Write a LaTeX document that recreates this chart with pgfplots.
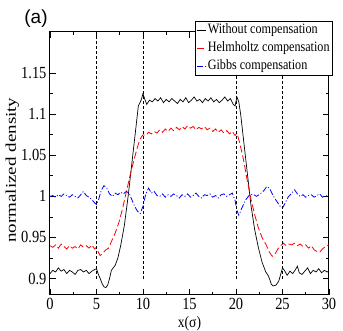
\documentclass[border=0pt]{standalone}
\usepackage{pgfplots}
\pgfplotsset{compat=1.18}
\usepackage{fontspec}
\setmainfont{Liberation Serif}
\setsansfont{Liberation Sans}
\newfontfamily\narrow{Liberation Serif}[FakeStretch=0.85]
\begin{document}
\begin{tikzpicture}
\begin{axis}[
  scale only axis, width=279pt, height=263pt,
  xmin=0, xmax=30, ymin=0.88, ymax=1.2,
  xtick={0,5,...,30}, minor x tick num=1,
  ytick={0.9,0.95,1,1.05,1.1,1.15},
  yticklabels={0.9,0.95,1,1.05,1.1,1.15},
  minor y tick num=1,
  /pgf/number format/assume math mode=true,
  tick label style={font=\fontsize{17}{19}\narrow},
  major tick length=6pt, minor tick length=3pt,
  axis line style={line width=1pt},
  every tick/.style={black, line width=0.7pt},
  xlabel={x(σ)},
  xlabel style={font=\fontsize{16}{18}\narrow},
  ylabel={\scalebox{1}[0.78]{normalized density}},
  ylabel style={font=\fontsize{19}{21}\selectfont, at={(axis description cs:-0.135,0.475)}, anchor=center},
  legend style={at={(axis description cs:0.52,1.042)}, anchor=north west,
    font=\fontsize{14.3}{16}\narrow, draw=black, line width=0.6pt, fill=white,
    inner xsep=1.5pt, inner ysep=1.5pt, row sep=3pt,
    nodes={inner sep=1pt, text height=10pt, text depth=3pt}},
  legend cell align=left,
  legend image code/.code={\draw[#1, line width=0.9pt] (0pt,0pt) -- (9pt,0pt);},
]
\addplot[black, line width=0.7pt] coordinates {
(0,0.906) (0.3,0.910) (0.6,0.908) (0.9,0.913) (1.2,0.909) (1.5,0.911) (1.8,0.906) (2.1,0.910) (2.4,0.908) (2.7,0.905) (3.0,0.910) (3.3,0.911) (3.6,0.908) (3.9,0.910) (4.2,0.906) (4.5,0.909) (4.8,0.911) (5.0,0.912) (5.2,0.905) (5.4,0.900) (5.6,0.894) (5.8,0.890) (6.0,0.889) (6.2,0.892) (6.4,0.900) (6.6,0.910) (6.8,0.913) (7.0,0.916) (7.3,0.925) (7.6,0.940) (8.0,0.965) (8.4,1.000) (8.8,1.040) (9.2,1.080) (9.5,1.110) (9.8,1.117) (10.0,1.125) (10.2,1.118) (10.4,1.112) (10.7,1.117) (11.0,1.115) (11.3,1.119) (11.6,1.116) (11.9,1.120) (12.2,1.114) (12.5,1.118) (12.8,1.115) (13.1,1.119) (13.4,1.116) (13.7,1.113) (14.0,1.118) (14.3,1.115) (14.6,1.120) (14.9,1.114) (15.2,1.117) (15.5,1.121) (15.8,1.116) (16.1,1.118) (16.4,1.114) (16.7,1.119) (17.0,1.116) (17.3,1.120) (17.6,1.115) (17.9,1.118) (18.2,1.114) (18.5,1.117) (18.8,1.121) (19.1,1.116) (19.4,1.119) (19.7,1.112) (19.9,1.110) (20.1,1.121) (20.3,1.115) (20.5,1.100) (20.8,1.070) (21.2,1.030) (21.6,0.990) (22.0,0.960) (22.4,0.938) (22.8,0.920) (23.2,0.908) (23.5,0.903) (23.8,0.893) (24.0,0.891) (24.3,0.892) (24.6,0.897) (24.8,0.905) (25.0,0.913) (25.2,0.910) (25.5,0.904) (25.8,0.909) (26.1,0.906) (26.4,0.911) (26.6,0.915) (26.8,0.907) (27.1,0.905) (27.4,0.909) (27.7,0.913) (28.0,0.906) (28.3,0.910) (28.6,0.908) (28.9,0.912) (29.2,0.907) (29.5,0.910) (29.8,0.908) (30,0.909)
};
\addlegendentry{Without compensation}
\addplot[red, line width=0.8pt, dash pattern=on 7pt off 3pt] coordinates {
(0,0.940) (0.3,0.938) (0.6,0.941) (0.9,0.937) (1.2,0.942) (1.5,0.939) (1.8,0.936) (2.1,0.940) (2.4,0.937) (2.7,0.939) (3.0,0.936) (3.3,0.941) (3.6,0.938) (3.9,0.940) (4.2,0.937) (4.5,0.941) (4.8,0.936) (5.0,0.938) (5.2,0.932) (5.4,0.928) (5.7,0.931) (6.0,0.935) (6.3,0.937) (6.6,0.945) (7.0,0.955) (7.4,0.968) (7.8,0.985) (8.2,1.005) (8.6,1.025) (9.0,1.043) (9.4,1.060) (9.7,1.070) (10.0,1.075) (10.3,1.074) (10.6,1.078) (10.9,1.076) (11.2,1.079) (11.5,1.077) (11.8,1.081) (12.1,1.078) (12.4,1.082) (12.7,1.079) (13.0,1.083) (13.3,1.080) (13.6,1.084) (13.9,1.081) (14.2,1.085) (14.5,1.082) (14.8,1.086) (15.1,1.083) (15.4,1.085) (15.7,1.081) (16.0,1.084) (16.3,1.082) (16.6,1.085) (16.9,1.081) (17.2,1.083) (17.5,1.079) (17.8,1.082) (18.1,1.078) (18.4,1.081) (18.7,1.077) (19.0,1.080) (19.3,1.076) (19.6,1.079) (19.9,1.074) (20.1,1.077) (20.4,1.065) (20.8,1.045) (21.2,1.020) (21.6,0.997) (22.0,0.978) (22.4,0.962) (22.8,0.950) (23.2,0.942) (23.6,0.932) (23.9,0.927) (24.2,0.930) (24.5,0.936) (24.8,0.940) (25.1,0.943) (25.4,0.940) (25.7,0.942) (26.0,0.941) (26.3,0.943) (26.6,0.940) (26.9,0.942) (27.2,0.939) (27.5,0.941) (27.8,0.937) (28.1,0.940) (28.4,0.935) (28.7,0.933) (29.0,0.932) (29.3,0.936) (29.6,0.939) (30,0.941)
};
\addlegendentry{Helmholtz compensation}
\addplot[blue, line width=0.8pt, dash pattern=on 6pt off 2pt on 1pt off 2pt] coordinates {
(0,1.000) (0.3,1.001) (0.6,0.999) (0.9,1.002) (1.2,1.000) (1.5,1.003) (1.8,1.001) (2.1,0.999) (2.4,1.002) (2.7,1.000) (3.0,0.998) (3.3,1.002) (3.6,1.006) (3.9,1.001) (4.2,0.999) (4.5,0.996) (4.8,0.992) (5.0,0.990) (5.2,0.995) (5.5,1.007) (5.8,1.013) (6.1,1.010) (6.4,1.003) (6.7,1.000) (7.0,1.004) (7.3,1.002) (7.6,1.005) (7.9,1.003) (8.2,1.006) (8.5,1.004) (8.8,0.996) (9.1,0.988) (9.4,0.982) (9.7,0.979) (10.0,0.988) (10.3,1.003) (10.6,1.010) (10.9,1.004) (11.2,1.006) (11.5,1.001) (11.8,1.000) (12.1,1.003) (12.4,0.999) (12.7,1.002) (13.0,1.000) (13.3,1.003) (13.6,1.001) (13.9,0.998) (14.2,1.002) (14.5,1.000) (14.8,1.003) (15.1,0.999) (15.4,1.001) (15.7,1.004) (16.0,1.000) (16.3,0.998) (16.6,1.002) (16.9,1.001) (17.2,1.003) (17.5,0.999) (17.8,1.001) (18.1,0.998) (18.4,1.002) (18.7,1.003) (19.0,1.000) (19.3,1.002) (19.6,1.004) (19.9,0.995) (20.1,0.983) (20.3,0.977) (20.6,0.985) (21.0,0.995) (21.4,1.001) (21.8,1.003) (22.2,1.000) (22.6,1.003) (23.0,1.007) (23.3,1.012) (23.6,1.010) (23.9,1.003) (24.2,0.997) (24.5,0.992) (24.8,0.987) (25.0,0.986) (25.3,0.992) (25.6,0.999) (26.0,1.004) (26.3,1.008) (26.6,1.003) (26.9,1.000) (27.2,1.002) (27.5,0.999) (27.8,1.001) (28.1,1.002) (28.4,0.999) (28.7,1.001) (29.0,1.003) (29.3,0.999) (29.6,1.001) (30,1.000)
};
\addlegendentry{Gibbs compensation}
\addplot[black, line width=0.5pt, dash pattern=on 3pt off 2pt, forget plot] coordinates {(5,0.9) (5,1.2)};
\addplot[black, line width=0.5pt, dash pattern=on 3pt off 2pt, forget plot] coordinates {(10,0.9) (10,1.2)};
\addplot[black, line width=0.5pt, dash pattern=on 3pt off 2pt, forget plot] coordinates {(20,0.9) (20,1.2)};
\addplot[black, line width=0.5pt, dash pattern=on 3pt off 2pt, forget plot] coordinates {(25,0.9) (25,1.2)};
\end{axis}
\node[font=\fontsize{19}{21}\selectfont\sffamily, anchor=center] at (-14pt,276pt) {(a)};
\pgfresetboundingbox
\path (-50pt,-36pt) rectangle (293pt,295pt);
\end{tikzpicture}
\end{document}
